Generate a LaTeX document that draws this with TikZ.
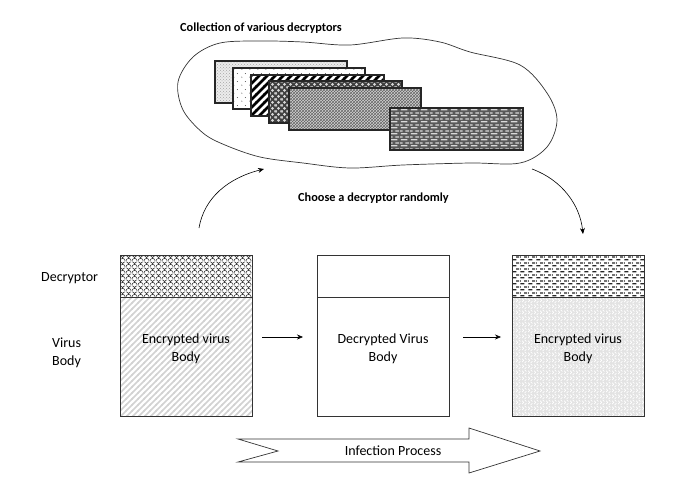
\documentclass[tikz,border=0pt]{standalone}
\usepackage{fontspec}
\setmainfont{Carlito}
\usetikzlibrary{patterns,arrows.meta}
\makeatletter
\pgfdeclarepatternformonly{fishscale}{\pgfqpoint{0pt}{0pt}}{\pgfqpoint{6pt}{6pt}}{\pgfqpoint{6pt}{6pt}}{%
  \pgfsetlinewidth{0.6pt}%
  \pgfpathmoveto{\pgfqpoint{6pt}{0pt}}\pgfpatharc{0}{180}{3pt}%
  \pgfpathmoveto{\pgfqpoint{3pt}{3pt}}\pgfpatharc{0}{90}{3pt}%
  \pgfpathmoveto{\pgfqpoint{6pt}{6pt}}\pgfpatharc{90}{180}{3pt}%
  \pgfusepath{stroke}}
\pgfdeclarepatternformonly{widediag}{\pgfqpoint{-1pt}{-1pt}}{\pgfqpoint{7pt}{7pt}}{\pgfqpoint{6pt}{6pt}}{%
  \pgfsetlinewidth{1.6pt}%
  \pgfpathmoveto{\pgfqpoint{-1pt}{-1pt}}\pgfpathlineto{\pgfqpoint{7pt}{7pt}}%
  \pgfusepath{stroke}}
\pgfdeclarepatternformonly{thickdiag}{\pgfqpoint{-1pt}{-1pt}}{\pgfqpoint{9pt}{9pt}}{\pgfqpoint{8pt}{8pt}}{%
  \pgfsetlinewidth{2.6pt}%
  \pgfpathmoveto{\pgfqpoint{-1pt}{-1pt}}\pgfpathlineto{\pgfqpoint{9pt}{9pt}}%
  \pgfusepath{stroke}}
\pgfdeclarepatternformonly{hdashes}{\pgfqpoint{0pt}{0pt}}{\pgfqpoint{8pt}{6pt}}{\pgfqpoint{8pt}{6pt}}{%
  \pgfsetlinewidth{1.5pt}%
  \pgfpathmoveto{\pgfqpoint{0.5pt}{1.5pt}}\pgfpathlineto{\pgfqpoint{5pt}{1.5pt}}%
  \pgfpathmoveto{\pgfqpoint{4.5pt}{4.5pt}}\pgfpathlineto{\pgfqpoint{8pt}{4.5pt}}%
  \pgfpathmoveto{\pgfqpoint{0pt}{4.5pt}}\pgfpathlineto{\pgfqpoint{1pt}{4.5pt}}%
  \pgfusepath{stroke}}
\pgfdeclarepatternformonly{mybricks}{\pgfqpoint{0pt}{0pt}}{\pgfqpoint{10pt}{6pt}}{\pgfqpoint{10pt}{6pt}}{%
  \pgfsetlinewidth{1.4pt}%
  \pgfpathmoveto{\pgfqpoint{1pt}{1.5pt}}\pgfpathlineto{\pgfqpoint{8pt}{1.5pt}}%
  \pgfpathmoveto{\pgfqpoint{6pt}{4.5pt}}\pgfpathlineto{\pgfqpoint{10pt}{4.5pt}}%
  \pgfpathmoveto{\pgfqpoint{0pt}{4.5pt}}\pgfpathlineto{\pgfqpoint{3pt}{4.5pt}}%
  \pgfusepath{stroke}}
\pgfdeclarepatternformonly{sparsedots}{\pgfqpoint{0pt}{0pt}}{\pgfqpoint{8pt}{8pt}}{\pgfqpoint{8pt}{8pt}}{%
  \pgfpathcircle{\pgfqpoint{2pt}{2pt}}{0.6pt}%
  \pgfpathcircle{\pgfqpoint{6pt}{6pt}}{0.6pt}%
  \pgfusepath{fill}}
\pgfdeclarepatternformonly{rings}{\pgfqpoint{0pt}{0pt}}{\pgfqpoint{6pt}{6pt}}{\pgfqpoint{6pt}{6pt}}{%
  \pgfpathcircle{\pgfqpoint{3pt}{3pt}}{1.7pt}%
  \pgfpathcircle{\pgfqpoint{0pt}{0pt}}{1.2pt}%
  \pgfpathcircle{\pgfqpoint{6pt}{0pt}}{1.2pt}%
  \pgfpathcircle{\pgfqpoint{0pt}{6pt}}{1.2pt}%
  \pgfpathcircle{\pgfqpoint{6pt}{6pt}}{1.2pt}%
  \pgfusepath{fill}}
\pgfdeclarepatternformonly{weave}{\pgfqpoint{0pt}{0pt}}{\pgfqpoint{6pt}{6pt}}{\pgfqpoint{6pt}{6pt}}{%
  \pgfsetlinewidth{0.8pt}%
  \pgfpathmoveto{\pgfqpoint{0pt}{1pt}}\pgfpathlineto{\pgfqpoint{2pt}{3pt}}\pgfpathlineto{\pgfqpoint{0pt}{5pt}}%
  \pgfpathmoveto{\pgfqpoint{3pt}{0pt}}\pgfpathlineto{\pgfqpoint{5pt}{2pt}}%
  \pgfpathmoveto{\pgfqpoint{5pt}{4pt}}\pgfpathlineto{\pgfqpoint{3pt}{6pt}}%
  \pgfusepath{stroke}}
\makeatother
\tikzset{
  card/.style={draw=black!85, line width=1.1pt},
  vbox/.style={draw=black!80, line width=0.8pt, minimum width=132pt, inner sep=0pt, anchor=north west},
  lbl/.style={font=\fontsize{14}{18}\selectfont, align=center, inner sep=1pt},
  small/.style={font=\bfseries\fontsize{12.3}{14}\selectfont, inner sep=1pt, anchor=west},
  arr/.style={-{Stealth[length=6pt,width=5pt]}, line width=0.6pt}
}
\begin{document}
\begin{tikzpicture}[x=1pt,y=-1pt]
\useasboundingbox (0,0) rectangle (694,495);
% cloud
\draw[line width=0.7pt, black!80] plot[smooth cycle, tension=0.55] coordinates {
 (178,82) (193,57) (220,43) (262,41) (303,42) (350,45) (403,38) (440,42) (470,52)
 (520,65) (547,93) (557,120) (547,147) (520,163) (470,163) (403,165) (350,168)
 (303,163) (260,157) (225,145) (203,133) (183,110)};
\node[small] (title) at (179,28) {Collection of various decryptors};
% cards
\path[card, preaction={fill=gray!15}, pattern=crosshatch dots, pattern color=gray!70] (215,61) rectangle (347,103);
\path[card, fill=white] (233,68) rectangle (365,109);
\path[card, pattern=sparsedots, pattern color=black!70] (233,68) rectangle (365,109);
\path[card, fill=white] (251,75) rectangle (384,116);
\path[card, pattern=thickdiag, pattern color=black] (251,75) rectangle (384,116);
\path[card, preaction={fill=black!75}, pattern=rings, pattern color=white!85!black] (269,81) rectangle (402,123);
\path[card, preaction={fill=gray!35}, pattern=crosshatch, pattern color=black!60] (289,88) rectangle (421,130);
\path[card, preaction={fill=black!65}, pattern=mybricks, pattern color=white!85!black] (390,108) rectangle (523,150);
\node[small] (choose) at (297,198) {Choose a decryptor randomly};
% boxes
\node[vbox, minimum height=42pt, pattern=fishscale, pattern color=black!85] (d1) at (120,255) {};
\node[vbox, minimum height=119pt, pattern=widediag, pattern color=gray!35] (b1) at (120,297) {};
\node[vbox, minimum height=42pt] (d2) at (317,255) {};
\node[vbox, minimum height=119pt] (b2) at (317,297) {};
\node[vbox, minimum height=42pt, pattern=hdashes, pattern color=black!85] (d3) at (512,255) {};
\node[vbox, minimum height=119pt, preaction={fill=gray!22}, pattern=weave, pattern color=white] (b3) at (512,297) {};
\node[lbl] (t1) at (186,349) {Encrypted virus\\Body};
\node[lbl] (t2) at (383,349) {Decrypted Virus\\Body};
\node[lbl] (t3) at (578,349) {Encrypted virus\\Body};
\node[lbl, anchor=west] (ldec) at (40,278) {Decryptor};
\node[lbl, anchor=west, align=left] (lvb) at (51,353) {Virus\\Body};
% arrows between boxes
\coordinate (a1s) at (262,337); \coordinate (a1e) at (303,337);
\coordinate (a2s) at (463,337); \coordinate (a2e) at (501,337);
\draw[arr] (a1s) -- (a1e);
\draw[arr] (a2s) -- (a2e);
% curved arrows
\coordinate (c1s) at (199,228); \coordinate (c1e) at (264,169);
\coordinate (c2s) at (532,169); \coordinate (c2e) at (583,234);
\draw[arr] (c1s) .. controls (204,198) and (228,178) .. (c1e);
\draw[arr] (c2s) .. controls (562,180) and (580,205) .. (c2e);
% infection process arrow
\draw[line width=0.7pt, black!80] (238,439) -- (469,439) -- (469,428) -- (540,451) -- (469,473) -- (469,462) -- (238,462) -- (278,451) -- cycle;
\node[lbl] (inf) at (393,451) {Infection Process};
\end{tikzpicture}
\end{document}
